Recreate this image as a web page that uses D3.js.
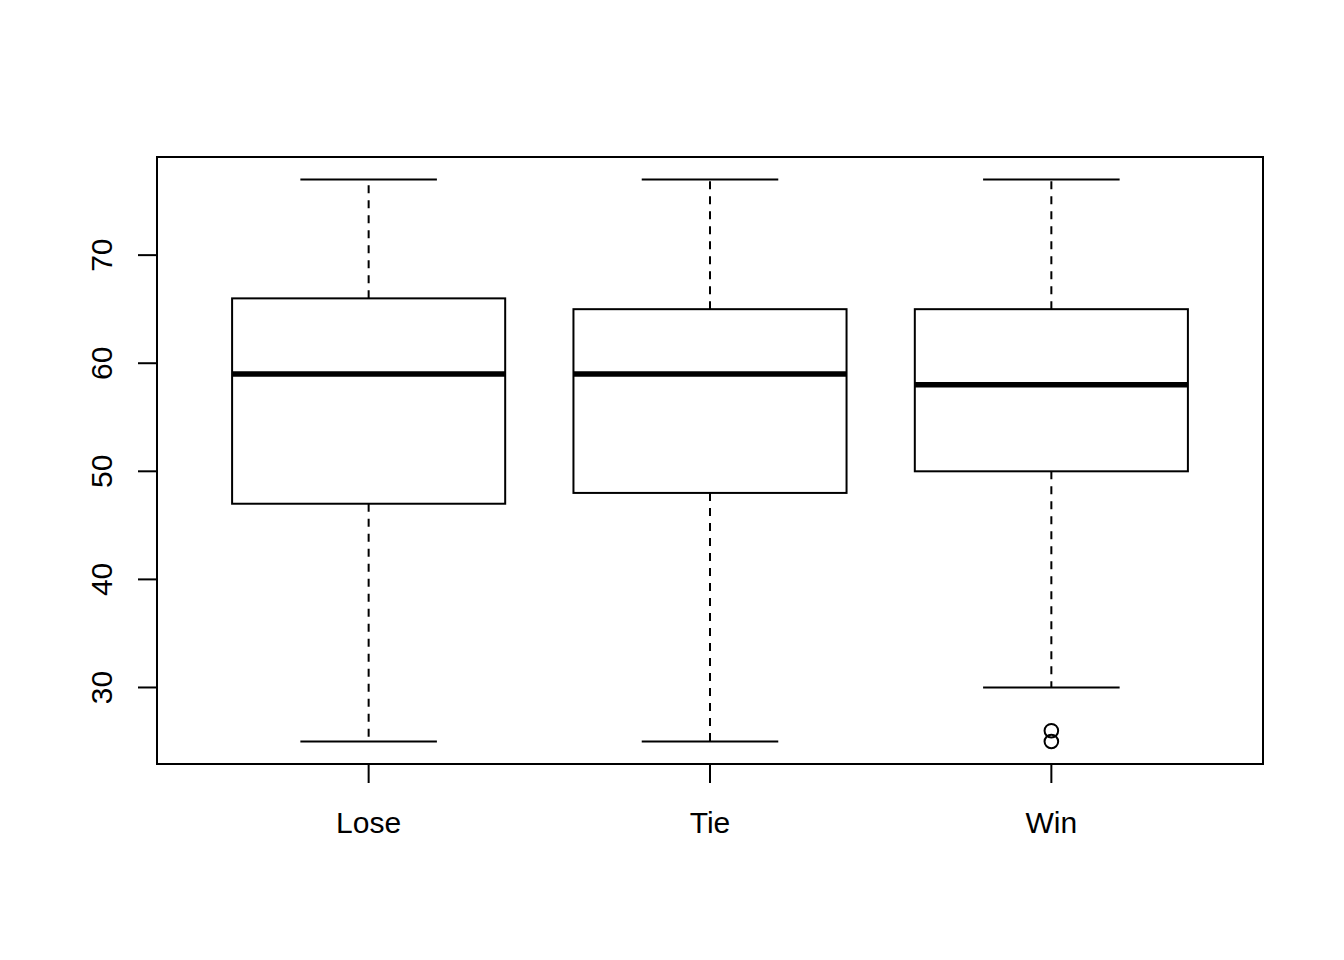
<!DOCTYPE html>
<html><head><meta charset="utf-8">
<script src="https://cdn.jsdelivr.net/npm/d3@7"></script>
<style>body{margin:0;background:#fff}svg{display:block}</style>
</head><body>
<svg id="c" width="1344" height="960"></svg>
<script>
const categories = ["Lose", "Tie", "Win"];
const lowerWhisker = [25, 25, 30];
const q1 = [47, 48, 50];
const median = [59, 59, 58];
const q3 = [66, 65, 65];
const upperWhisker = [77, 77, 77];
const outliers = [[], [], [25, 26]];
const yTicks = [30, 40, 50, 60, 70];

const svg = d3.select("#c");
const L = 157, R = 1263, T = 157, B = 764;
const font = "'Liberation Sans', Arial, sans-serif";
const fs = 30;

const ymin = 25, ymax = 77, ext = (ymax - ymin) * 0.04;
const y = d3.scaleLinear().domain([ymin - ext, ymax + ext]).range([B, T]);
const x = d3.scaleLinear().domain([0.38, 3.62]).range([L, R]);
const u = x(1) - x(0);

const g = svg.append("g");
categories.forEach((c, i) => {
  const cx = x(i + 1);
  g.append("line").attr("x1", cx).attr("x2", cx).attr("y1", y(q3[i])).attr("y2", y(upperWhisker[i]))
    .attr("stroke", "#000").attr("stroke-width", 2).attr("stroke-dasharray", "8,7");
  g.append("line").attr("x1", cx).attr("x2", cx).attr("y1", y(q1[i])).attr("y2", y(lowerWhisker[i]))
    .attr("stroke", "#000").attr("stroke-width", 2).attr("stroke-dasharray", "8,7");
  [upperWhisker[i], lowerWhisker[i]].forEach(v => {
    g.append("line").attr("x1", cx - 0.2 * u).attr("x2", cx + 0.2 * u).attr("y1", y(v)).attr("y2", y(v))
      .attr("stroke", "#000").attr("stroke-width", 2);
  });
  g.append("rect").attr("x", cx - 0.4 * u).attr("width", 0.8 * u)
    .attr("y", y(q3[i])).attr("height", y(q1[i]) - y(q3[i]))
    .attr("fill", "#fff").attr("stroke", "#000").attr("stroke-width", 2);
  g.append("line").attr("x1", cx - 0.4 * u).attr("x2", cx + 0.4 * u).attr("y1", y(median[i])).attr("y2", y(median[i]))
    .attr("stroke", "#000").attr("stroke-width", 5.5);
  outliers[i].forEach(v => {
    g.append("circle").attr("cx", cx).attr("cy", y(v)).attr("r", 6.8)
      .attr("fill", "none").attr("stroke", "#000").attr("stroke-width", 2);
  });
});

svg.append("rect").attr("x", L).attr("y", T).attr("width", R - L).attr("height", B - T)
  .attr("fill", "none").attr("stroke", "#000").attr("stroke-width", 2);

const ya = svg.append("g");
ya.append("line").attr("x1", L).attr("x2", L).attr("y1", y(30)).attr("y2", y(70)).attr("stroke", "#000").attr("stroke-width", 2);
yTicks.forEach(t => {
  ya.append("line").attr("x1", L - 19).attr("x2", L).attr("y1", y(t)).attr("y2", y(t)).attr("stroke", "#000").attr("stroke-width", 2);
  ya.append("text").attr("transform", `translate(112,${y(t)}) rotate(-90)`)
    .attr("text-anchor", "middle").attr("font-family", font).attr("font-size", fs).text(t);
});

categories.forEach((c, i) => {
  const cx = x(i + 1);
  svg.append("line").attr("x1", cx).attr("x2", cx).attr("y1", B).attr("y2", B + 19).attr("stroke", "#000").attr("stroke-width", 2);
  svg.append("text").attr("x", cx).attr("y", 833).attr("text-anchor", "middle")
    .attr("font-family", font).attr("font-size", fs).text(c);
});
</script>
</body></html>
